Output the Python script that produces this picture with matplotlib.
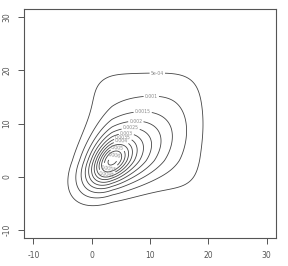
import math
import numpy as np
import matplotlib
matplotlib.use('Agg')
import matplotlib.pyplot as plt

# density: a skewed bump, a small sharp core, a plateau
skew_mode = [3.5, 3.0]
skew_sd_left, skew_sd_right = 3.8, 6.0
skew_sd_down, skew_sd_up = 4.2, 5.3
skew_rho = 0.5
skew_height = 0.0032

core_mean = [3.5, 3.0]
core_sd = [2.0, 2.4]
core_rho = 0.4
core_height = 0.0023

plateau_x = [-0.5, 19.0]
plateau_y = [-3.0, 20.2]
plateau_edge = 2.8
plateau_height = 0.0008

levels = [0.0005, 0.001, 0.0015, 0.002, 0.0025, 0.003, 0.0035,
          0.004, 0.0045, 0.005, 0.0055, 0.006]
level_labels = ["5e-04", "0.001", "0.0015", "0.002", "0.0025", "0.003",
                "0.0035", "0.004", "0.0045", "0.005", "0.0055", "0.006"]

xticks = [-10, 0, 10, 20, 30]
yticks = [-10, 0, 10, 20, 30]

gx = np.linspace(-12, 32, 300)
gy = np.linspace(-12, 32, 300)
X, Y = np.meshgrid(gx, gy)

# skewed bump: different spread on each side of the mode
dx = X - skew_mode[0]
dy = Y - skew_mode[1]
u = np.where(dx < 0, dx / skew_sd_left, dx / skew_sd_right)
v = np.where(dy < 0, dy / skew_sd_down, dy / skew_sd_up)
q = (u**2 + v**2 - 2 * skew_rho * u * v) / (1 - skew_rho**2)
Z = skew_height * np.exp(-0.5 * q)

u = (X - core_mean[0]) / core_sd[0]
v = (Y - core_mean[1]) / core_sd[1]
q = (u**2 + v**2 - 2 * core_rho * u * v) / (1 - core_rho**2)
Z += core_height * np.exp(-0.5 * q)

erf = np.vectorize(math.erf)
s2 = plateau_edge * math.sqrt(2)
bx = 0.5 * (erf((gx - plateau_x[0]) / s2) - erf((gx - plateau_x[1]) / s2))
by = 0.5 * (erf((gy - plateau_y[0]) / s2) - erf((gy - plateau_y[1]) / s2))
Z += plateau_height * np.outer(by, bx)

use_levels = [l for l in levels if l < Z.max()]
fmt = dict(zip(levels, level_labels))

fig = plt.figure(figsize=(2.88, 2.66), dpi=100)
ax = fig.add_axes([24 / 288, 1 - 238 / 266, 252 / 288, 229 / 266])

cs = ax.contour(X, Y, Z, levels=use_levels, colors='#444444', linewidths=0.6)

# outer labels at the top of each curve, inner ones alternate top / bottom
pos = []
for i, p in enumerate(cs.get_paths()):
    v = p.vertices
    if len(v) == 0:
        continue
    if i < 7 or i % 2 == 1:
        pos.append(tuple(v[np.argmax(v[:, 1])]))
    else:
        pos.append(tuple(v[np.argmin(v[:, 1])]))
cs.clabel(manual=pos, inline=True, inline_spacing=1, fmt=fmt,
          fontsize=3.3, colors='#888888')

ax.set_xlim(-11.6, 31.6)
ax.set_ylim(-11.6, 31.6)
ax.set_xticks(xticks)
ax.set_yticks(yticks)
ax.set_xticklabels([str(t) for t in xticks])
ax.set_yticklabels([str(t) for t in yticks], rotation=90, va='center')
ax.tick_params(length=4, width=0.7, color='#555555', labelsize=5.5,
               labelcolor='#555555', pad=5)
for sp in ax.spines.values():
    sp.set_color('#555555')
    sp.set_linewidth(0.8)

fig.savefig('out.png', dpi=100)
